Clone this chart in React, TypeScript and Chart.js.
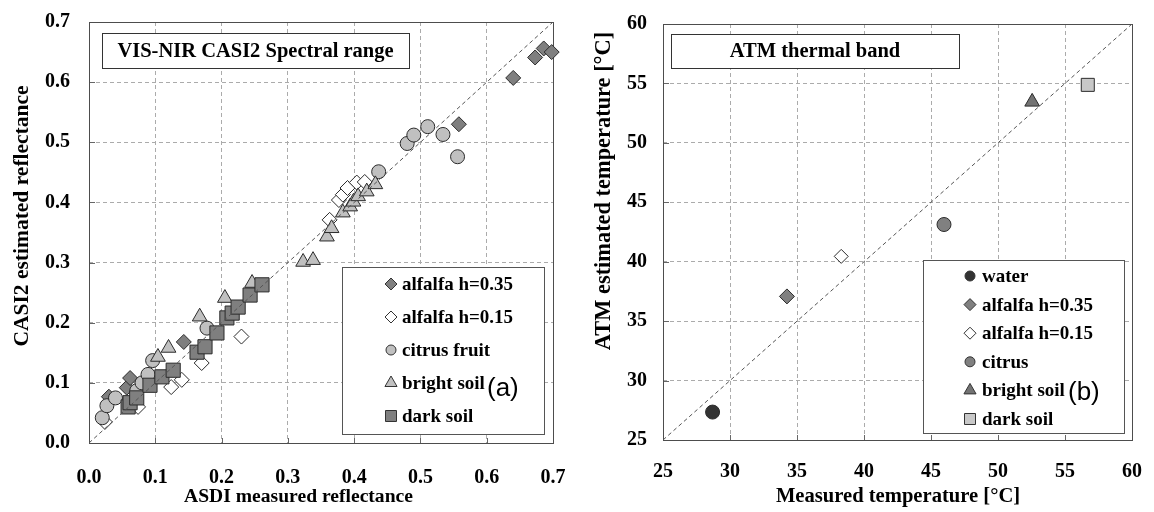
import React, { useEffect, useRef } from 'react';
import { Chart, registerables } from 'chart.js';

Chart.register(...registerables);

const SERIF = '"Liberation Serif", "Times New Roman", serif';
const SANS = '"Liberation Sans", Arial, sans-serif';

// ---------- Left chart (a): VIS-NIR CASI2 ----------
const leftTickLabels = ['0.0', '0.1', '0.2', '0.3', '0.4', '0.5', '0.6', '0.7'];

const alf35X = [0.03, 0.057, 0.062, 0.143, 0.558, 0.640, 0.673, 0.686, 0.698];
const alf35Y = [0.077, 0.092, 0.108, 0.168, 0.530, 0.607, 0.641, 0.656, 0.650];

const alf15X = [0.024, 0.074, 0.124, 0.140, 0.170, 0.230, 0.363, 0.377, 0.383, 0.390, 0.404, 0.416];
const alf15Y = [0.035, 0.060, 0.093, 0.105, 0.133, 0.177, 0.371, 0.404, 0.413, 0.424, 0.433, 0.434];

const citrusX = [0.020, 0.027, 0.040, 0.072, 0.080, 0.089, 0.096, 0.178, 0.437, 0.480, 0.490, 0.511, 0.534, 0.556];
const citrusY = [0.042, 0.062, 0.075, 0.087, 0.100, 0.114, 0.137, 0.191, 0.451, 0.498, 0.512, 0.526, 0.513, 0.476];

const brightX = [0.104, 0.120, 0.167, 0.205, 0.246, 0.323, 0.338, 0.359, 0.366, 0.383, 0.394, 0.399, 0.406, 0.419, 0.432];
const brightY = [0.143, 0.158, 0.210, 0.241, 0.266, 0.301, 0.304, 0.343, 0.357, 0.383, 0.393, 0.401, 0.410, 0.418, 0.430];

const darkX = [0.059, 0.062, 0.072, 0.092, 0.110, 0.127, 0.163, 0.175, 0.193, 0.208, 0.216, 0.225, 0.243, 0.261];
const darkY = [0.060, 0.067, 0.075, 0.096, 0.110, 0.121, 0.151, 0.160, 0.183, 0.208, 0.216, 0.226, 0.246, 0.263];

const leftLabels = ['alfalfa h=0.35', 'alfalfa h=0.15', 'citrus fruit', 'bright soil', 'dark soil'];

// ---------- Right chart (b): ATM thermal ----------
const rightTickLabels = ['25', '30', '35', '40', '45', '50', '55', '60'];
const rightLabels = ['water', 'alfalfa h=0.35', 'alfalfa h=0.15', 'citrus', 'bright soil', 'dark soil'];
const rightX = [28.7, 34.25, 38.3, 45.97, 52.55, 56.7];
const rightY = [27.35, 37.08, 40.45, 43.13, 53.45, 54.88];

type Style = 'circle' | 'rectRot' | 'triangle' | 'rect';

function drawMarker(ctx: CanvasRenderingContext2D, style: Style, x: number, y: number, r: number, fill: string, stroke: string) {
  ctx.save();
  ctx.beginPath();
  if (style === 'circle') {
    ctx.arc(x, y, r, 0, Math.PI * 2);
  } else if (style === 'rectRot') {
    ctx.moveTo(x, y - r);
    ctx.lineTo(x + r, y);
    ctx.lineTo(x, y + r);
    ctx.lineTo(x - r, y);
    ctx.closePath();
  } else if (style === 'triangle') {
    ctx.moveTo(x, y - r);
    ctx.lineTo(x + r * 0.866, y + r * 0.5);
    ctx.lineTo(x - r * 0.866, y + r * 0.5);
    ctx.closePath();
  } else {
    ctx.rect(x - r, y - r, 2 * r, 2 * r);
  }
  ctx.fillStyle = fill;
  ctx.fill();
  ctx.lineWidth = 1;
  ctx.strokeStyle = stroke;
  ctx.stroke();
  ctx.restore();
}

type LegendItem = { label: string; style: Style; fill: string; r: number };

type OverlayCfg = {
  title: string;
  titleBox: [number, number, number, number];
  legendBox: [number, number, number, number];
  legendFirst: number;
  legendStep: number;
  markerDx: number;
  textDx: number;
  items: LegendItem[];
  tag: string;
  tagPos: [number, number];
  xTitle: string;
  xTitlePos: [number, number];
  xTitleSize: number;
  yTitle: string;
  yTitlePos: [number, number];
  yTitleSize: number;
};

function makeOverlay(cfg: OverlayCfg) {
  return {
    id: 'overlay',
    beforeDatasetsDraw(chart: any) {
      const { ctx, chartArea: a } = chart;
      ctx.save();
      // inside tick marks
      ctx.strokeStyle = '#666';
      ctx.lineWidth = 1;
      const xs = chart.scales.x;
      const ys = chart.scales.y;
      ctx.beginPath();
      xs.ticks.forEach((_t: any, i: number) => {
        const px = Math.round(xs.getPixelForTick(i)) + 0.5;
        ctx.moveTo(px, a.bottom);
        ctx.lineTo(px, a.bottom - 5);
      });
      ys.ticks.forEach((_t: any, i: number) => {
        const py = Math.round(ys.getPixelForTick(i)) + 0.5;
        ctx.moveTo(a.left, py);
        ctx.lineTo(a.left + 6, py);
      });
      ctx.stroke();
      ctx.strokeStyle = '#4d4d4d';
      ctx.strokeRect(Math.round(a.left) + 0.5, Math.round(a.top) + 0.5, Math.round(a.right - a.left), Math.round(a.bottom - a.top));
      ctx.restore();
    },
    afterDatasetsDraw(chart: any) {
      const { ctx, chartArea: a } = chart;
      ctx.save();
      // title box
      const [tx, ty, tw, th] = cfg.titleBox;
      ctx.fillStyle = '#fff';
      ctx.fillRect(a.left + tx, a.top + ty, tw, th);
      ctx.strokeStyle = '#333';
      ctx.lineWidth = 1;
      ctx.strokeRect(Math.round(a.left + tx) + 0.5, Math.round(a.top + ty) + 0.5, tw, th);
      ctx.fillStyle = '#000';
      ctx.font = `bold 20.5px ${SERIF}`;
      ctx.textAlign = 'center';
      ctx.textBaseline = 'middle';
      ctx.fillText(cfg.title, a.left + tx + tw / 2, a.top + ty + th / 2 + 1);
      // legend box
      const [lx, ly, lw, lh] = cfg.legendBox;
      const bx = a.left + lx;
      const by = a.top + ly;
      ctx.fillStyle = '#fff';
      ctx.fillRect(bx, by, lw, lh);
      ctx.strokeStyle = '#555';
      ctx.strokeRect(Math.round(bx) + 0.5, Math.round(by) + 0.5, lw, lh);
      ctx.font = `bold 19px ${SERIF}`;
      ctx.textAlign = 'left';
      ctx.textBaseline = 'middle';
      cfg.items.forEach((it, i) => {
        const yy = by + cfg.legendFirst + i * cfg.legendStep;
        drawMarker(ctx, it.style, bx + cfg.markerDx, yy, it.r, it.fill, '#333');
        ctx.fillStyle = '#000';
        ctx.fillText(it.label, bx + cfg.textDx, yy + 1);
      });
      ctx.font = `26px ${SANS}`;
      ctx.fillStyle = '#000';
      ctx.fillText(cfg.tag, a.left + cfg.tagPos[0], a.top + cfg.tagPos[1]);
      // axis titles
      ctx.textAlign = 'center';
      ctx.textBaseline = 'middle';
      ctx.font = `bold ${cfg.xTitleSize}px ${SERIF}`;
      ctx.fillText(cfg.xTitle, cfg.xTitlePos[0], cfg.xTitlePos[1]);
      ctx.translate(cfg.yTitlePos[0], cfg.yTitlePos[1]);
      ctx.rotate(-Math.PI / 2);
      ctx.font = `bold ${cfg.yTitleSize}px ${SERIF}`;
      ctx.fillText(cfg.yTitle, 0, 0);
      ctx.restore();
    },
  };
}

function scatterDs(label: string, xs: number[], ys: number[], style: Style, fill: string, r: number, order: number) {
  return {
    type: 'scatter' as const,
    label,
    data: xs.map((x, i) => ({ x, y: ys[i] })),
    pointStyle: style,
    pointRadius: r,
    pointHoverRadius: r,
    backgroundColor: fill,
    borderColor: '#2b2b2b',
    borderWidth: 1,
    clip: false as const,
    order,
  };
}

function lineDs(min: number, max: number) {
  return {
    type: 'line' as const,
    label: '1:1',
    data: [{ x: min, y: min }, { x: max, y: max }],
    borderColor: '#555',
    borderWidth: 1,
    borderDash: [4, 3],
    pointRadius: 0,
    fill: false,
    order: 0,
  };
}

function axisOpts(axis: 'x' | 'y', min: number, max: number, step: number, labels: string[], size: number, padding: number) {
  return {
    type: 'linear' as const,
    min,
    max,
    afterFit(scale: any) {
      if (axis === 'x') scale.height = size;
      else scale.width = size;
      scale.paddingLeft = 0;
      scale.paddingRight = 0;
      scale.paddingTop = 0;
      scale.paddingBottom = 0;
    },
    ticks: {
      stepSize: step,
      padding,
      color: '#000',
      font: { family: SERIF, size: 20, weight: 'bold' as const },
      callback: (v: number) => labels[Math.round((v - min) / step)] ?? '',
      maxRotation: 0,
      autoSkip: false,
    },
    grid: { color: '#ababab', lineWidth: 1, drawTicks: false },
    border: { display: false, dash: [4, 3] },
    title: { display: false },
  };
}

function useChart(ref: React.RefObject<HTMLCanvasElement | null>, build: () => any) {
  useEffect(() => {
    if (!ref.current) return;
    const chart = new Chart(ref.current, build());
    return () => chart.destroy();
  }, []);
}

function LeftChart() {
  const ref = useRef<HTMLCanvasElement>(null);
  useChart(ref, () => ({
    type: 'scatter',
    data: {
      datasets: [
        lineDs(0, 0.7),
        scatterDs(leftLabels[4], darkX, darkY, 'rect', '#7f7f7f', 10, 1),
        scatterDs(leftLabels[3], brightX, brightY, 'triangle', '#c0c0c0', 8.5, 2),
        scatterDs(leftLabels[2], citrusX, citrusY, 'circle', '#c0c0c0', 7, 3),
        scatterDs(leftLabels[1], alf15X, alf15Y, 'rectRot', '#ffffff', 7.5, 4),
        scatterDs(leftLabels[0], alf35X, alf35Y, 'rectRot', '#7f7f7f', 7.5, 5),
      ],
    },
    options: {
      animation: false,
      responsive: false,
      maintainAspectRatio: false,
      layout: { padding: { left: 0, top: 22, right: 24, bottom: 0 } },
      plugins: { legend: { display: false }, tooltip: { enabled: false } },
      scales: {
        x: axisOpts('x', 0, 0.7, 0.1, leftTickLabels, 69, 23),
        y: axisOpts('y', 0, 0.7, 0.1, leftTickLabels, 89, 19),
      },
    },
    plugins: [
      makeOverlay({
        title: 'VIS-NIR CASI2 Spectral range',
        titleBox: [13, 11, 307, 35],
        legendBox: [253, 245, 202, 167],
        legendFirst: 17,
        legendStep: 33,
        markerDx: 49,
        textDx: 60,
        items: [
          { label: leftLabels[0], style: 'rectRot', fill: '#7f7f7f', r: 6 },
          { label: leftLabels[1], style: 'rectRot', fill: '#ffffff', r: 6 },
          { label: leftLabels[2], style: 'circle', fill: '#c0c0c0', r: 5 },
          { label: leftLabels[3], style: 'triangle', fill: '#c0c0c0', r: 7 },
          { label: leftLabels[4], style: 'rect', fill: '#7f7f7f', r: 5.5 },
        ],
        tag: '(a)',
        tagPos: [398, 367],
        xTitle: 'ASDI measured reflectance',
        xTitlePos: [298.5, 497],
        xTitleSize: 19.6,
        yTitle: 'CASI2 estimated reflectance',
        yTitlePos: [22.5, 216],
        yTitleSize: 21.5,
      }),
    ],
  }));
  return <canvas ref={ref} width={577} height={512} style={{ display: 'block' }} />;
}

function RightChart() {
  const ref = useRef<HTMLCanvasElement>(null);
  const styles: Style[] = ['circle', 'rectRot', 'rectRot', 'circle', 'triangle', 'rect'];
  const fills = ['#333333', '#808080', '#ffffff', '#808080', '#737373', '#c8c8c8'];
  const radii = [7, 7.5, 7, 7, 8.5, 9.2];
  useChart(ref, () => ({
    type: 'scatter',
    data: {
      datasets: [
        lineDs(25, 60),
        ...rightLabels.map((lab, i) =>
          scatterDs(lab, [rightX[i]], [rightY[i]], styles[i], fills[i], radii[i], 6 - i),
        ),
      ],
    },
    options: {
      animation: false,
      responsive: false,
      maintainAspectRatio: false,
      layout: { padding: { left: 0, top: 24, right: 22, bottom: 0 } },
      plugins: { legend: { display: false }, tooltip: { enabled: false } },
      scales: {
        x: axisOpts('x', 25, 60, 5, rightTickLabels, 72, 20),
        y: axisOpts('y', 25, 60, 5, rightTickLabels, 86, 16),
      },
    },
    plugins: [
      makeOverlay({
        title: 'ATM thermal band',
        titleBox: [8, 10, 288, 34],
        legendBox: [260, 236, 201, 173],
        legendFirst: 16,
        legendStep: 28.6,
        markerDx: 47,
        textDx: 59,
        items: rightLabels.map((lab, i) => ({
          label: lab,
          style: styles[i],
          fill: fills[i],
          r: styles[i] === 'circle' ? 5 : styles[i] === 'triangle' ? 7 : styles[i] === 'rect' ? 5.5 : 6,
        })),
        tag: '(b)',
        tagPos: [405, 369],
        xTitle: 'Measured temperature [°C]',
        xTitlePos: [321, 497],
        xTitleSize: 20.6,
        yTitle: 'ATM estimated temperature [°C]',
        yTitlePos: [27, 191],
        yTitleSize: 22.4,
      }),
    ],
  }));
  return <canvas ref={ref} width={577} height={512} style={{ display: 'block' }} />;
}

export default function App() {
  return (
    <div style={{ position: 'fixed', left: 0, top: 0, width: 1154, height: 512, display: 'flex', background: '#fff' }}>
      <LeftChart />
      <RightChart />
    </div>
  );
}
